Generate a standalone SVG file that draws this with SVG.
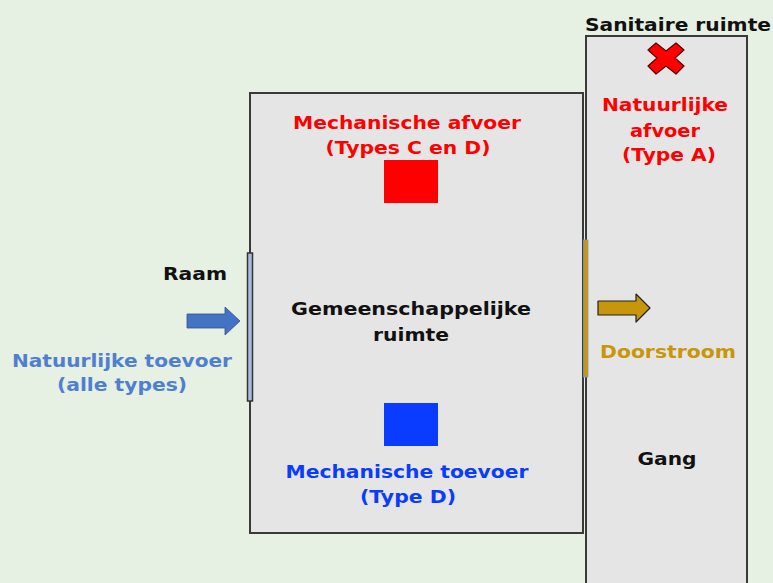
<svg xmlns="http://www.w3.org/2000/svg" width="773" height="583" viewBox="0 0 773 583">
<style>
text{font-family:"DejaVu Sans","Verdana",sans-serif;font-weight:bold;font-size:18.5px;text-anchor:middle}
.room{fill:#e5e5e5;stroke:#3a3a3a;stroke-width:2}
.red{fill:#ff0000}
.blue{fill:#0a3cff}
.lblue{fill:#4f7fd0}
.gold{fill:#c8960a}
.blk{fill:#111}
</style>
<rect width="773" height="583" fill="#e6f0e3"/>
<g id="gang">
<rect class="room" x="586" y="36" width="161" height="560"/>
<text class="blk" x="678" y="31" textLength="186" lengthAdjust="spacingAndGlyphs">Sanitaire ruimte</text>
<text class="blk" x="667" y="465" textLength="59" lengthAdjust="spacingAndGlyphs">Gang</text>
</g>
<g id="ruimte">
<rect class="room" x="250" y="93" width="333" height="440"/>
<text class="blk" x="411" y="315" textLength="240" lengthAdjust="spacingAndGlyphs">Gemeenschappelijke</text>
<text class="blk" x="411" y="341" textLength="76" lengthAdjust="spacingAndGlyphs">ruimte</text>
</g>
<g id="afvoer-mech">
<rect x="384" y="160" width="54" height="43" fill="#ff0000"/>
<text class="red" x="407" y="129" textLength="228" lengthAdjust="spacingAndGlyphs">Mechanische afvoer</text>
<text class="red" x="408" y="154" textLength="165" lengthAdjust="spacingAndGlyphs">(Types C en D)</text>
</g>
<g id="toevoer-mech">
<rect x="384" y="403" width="54" height="43" fill="#0a3cff"/>
<text class="blue" x="407" y="478" textLength="243" lengthAdjust="spacingAndGlyphs">Mechanische toevoer</text>
<text class="blue" x="408" y="503" textLength="96" lengthAdjust="spacingAndGlyphs">(Type D)</text>
</g>
<g id="afvoer-nat">
<path d="M656 43 L666 51 L676 43 L684 50 L675 58 L684 66 L676 74 L666 66 L656 74 L648 66 L657 58 L648 50 Z" fill="#ff0000" stroke="#5a0000" stroke-width="1.2" stroke-linejoin="round"/>
<text class="red" x="665" y="111" textLength="126" lengthAdjust="spacingAndGlyphs">Natuurlijke</text>
<text class="red" x="665" y="137" textLength="70" lengthAdjust="spacingAndGlyphs">afvoer</text>
<text class="red" x="669" y="161" textLength="94" lengthAdjust="spacingAndGlyphs">(Type A)</text>
</g>
<g id="raam">
<rect x="247.5" y="253" width="5" height="148" fill="#a9bce0" stroke="#333" stroke-width="1.5"/>
<text class="blk" x="195" y="280" textLength="64" lengthAdjust="spacingAndGlyphs">Raam</text>
</g>
<g id="doorgang">
<rect x="583.5" y="240" width="4.5" height="137" fill="#c8960a" stroke="#7f9bc8" stroke-width="0.8"/>
</g>
<g id="toevoer-nat">
<text class="lblue" x="122" y="367" textLength="220" lengthAdjust="spacingAndGlyphs">Natuurlijke toevoer</text>
<text class="lblue" x="122" y="391" textLength="130" lengthAdjust="spacingAndGlyphs">(alle types)</text>
</g>
<g id="doorstroom">
<text class="gold" x="668" y="358" textLength="136" lengthAdjust="spacingAndGlyphs">Doorstroom</text>
</g>
<g id="connectors">
<path d="M187 314 L225 314 L225 307 L240 321 L225 335 L225 328 L187 328 Z" fill="#4472c4" stroke="#2f528f" stroke-width="0.8"/>
<path d="M598 301 L636 301 L636 294 L650 308 L636 322 L636 315 L598 315 Z" fill="#c8960a" stroke="#222" stroke-width="1.2" stroke-linejoin="round"/>
</g>
</svg>
